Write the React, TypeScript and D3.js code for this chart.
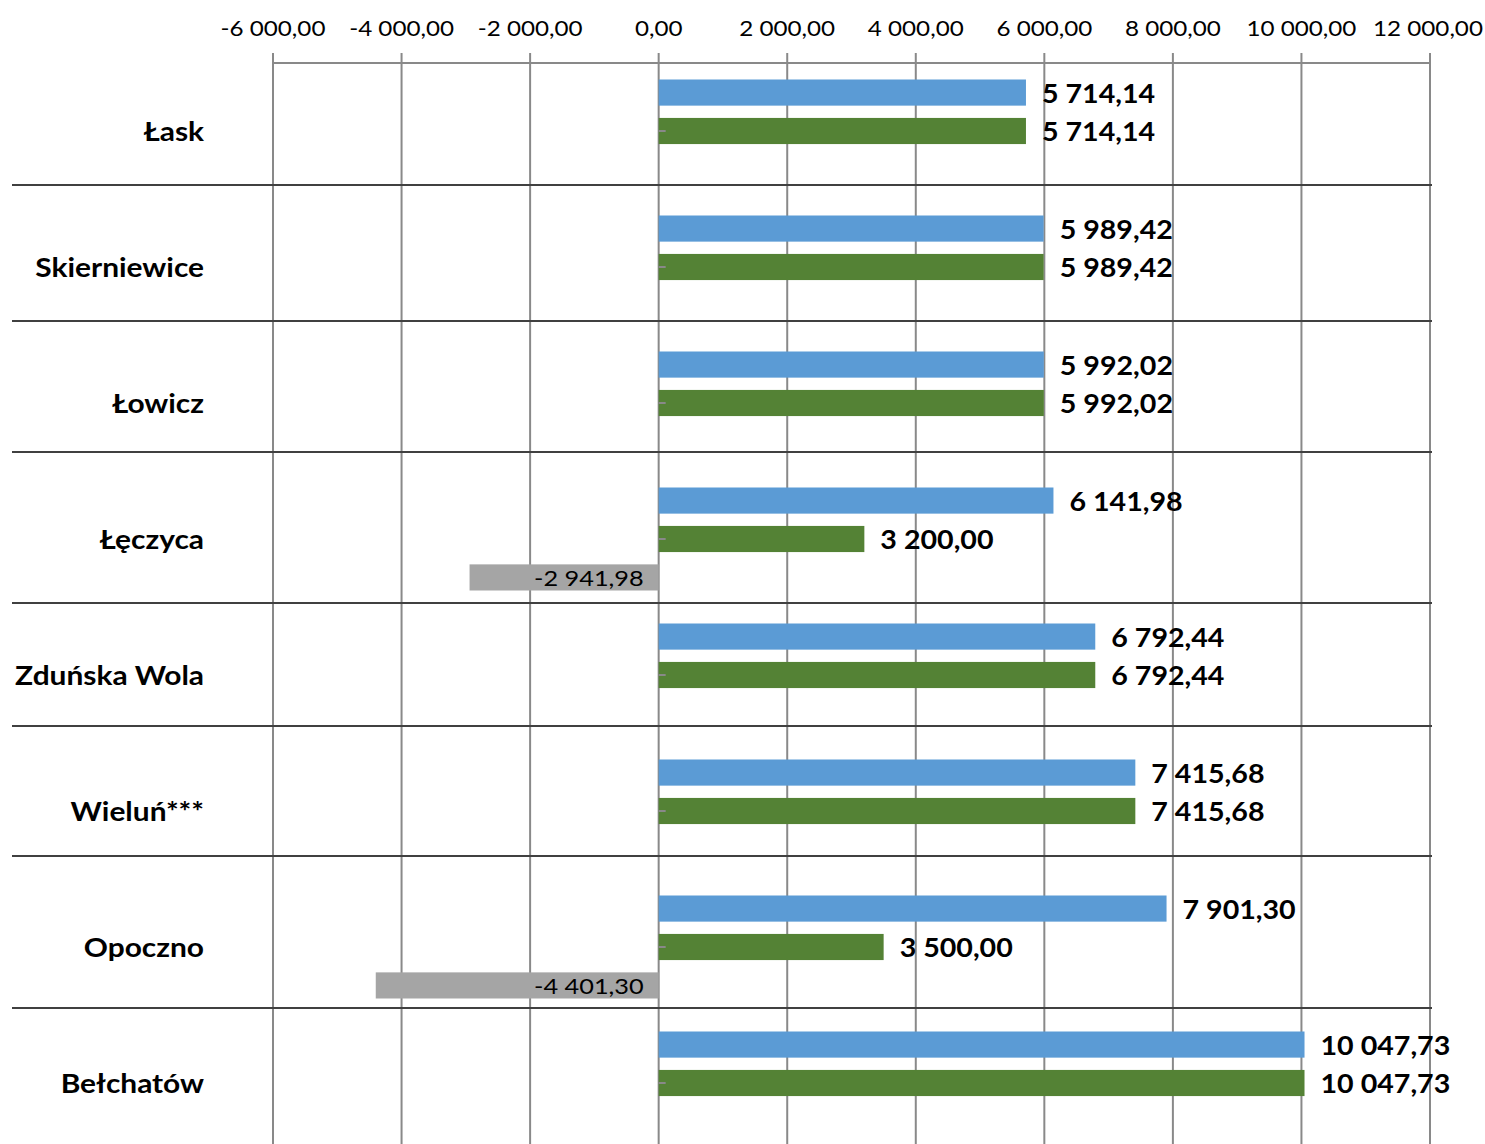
import React from 'react';
import * as d3 from 'd3';

// categories (top to bottom)
const cities = ['Łask', 'Skierniewice', 'Łowicz', 'Łęczyca', 'Zduńska Wola', 'Wieluń***', 'Opoczno', 'Bełchatów'];
// series values
const blueValues = [5714.14, 5989.42, 5992.02, 6141.98, 6792.44, 7415.68, 7901.3, 10047.73];
const greenValues = [5714.14, 5989.42, 5992.02, 3200.0, 6792.44, 7415.68, 3500.0, 10047.73];
const grayValues = [0, 0, 0, -2941.98, 0, 0, -4401.3, 0];
// axis ticks
const xTicks = [-6000, -4000, -2000, 0, 2000, 4000, 6000, 8000, 10000, 12000];

const series = ['blue', 'green', 'gray'];
const colors = { blue: '#5B9BD5', green: '#548235', gray: '#A5A5A5' };

const width = 1485;
const height = 1144;
const font = "Lato, 'Open Sans', sans-serif";

// table row borders behind the chart
const rowLines = [185, 321, 452, 603, 726, 856, 1008];

const plFormat = d3.formatLocale({
  decimal: ',',
  thousands: ' ',
  grouping: [3],
  currency: ['', ''],
  minus: '-',
}).format(',.2f');

// text stretched a little wider, like the original rendering
const Label = ({ x, y, sx, anchor = 'start', size, bold = false, children }: any) => (
  <text
    transform={`translate(${x},${y}) scale(${sx},1)`}
    textAnchor={anchor}
    dominantBaseline="central"
    fontFamily={font}
    fontWeight={bold ? 'bold' : 'normal'}
    fontSize={size}
    fill="#000"
  >
    {children}
  </text>
);

const App = () => {
  const x = d3.scaleLinear().domain([-6000, 12000]).range([273, 1430]);
  const y = d3.scaleBand().domain(cities).range([63, 1151]).padding(0);
  const bw = y.bandwidth();
  const inner = d3.scaleBand().domain(series).range([(bw - 103) / 2, (bw + 103) / 2]).paddingInner(0.32).paddingOuter(0);

  const rows = cities.map((c, i) => ({
    city: c,
    vals: { blue: blueValues[i], green: greenValues[i], gray: grayValues[i] },
  }));

  return (
    <svg width={width} height={height} style={{ position: 'absolute', left: 0, top: 0, background: '#fff' }}>
      {/* vertical gridlines */}
      {xTicks.map((t) => (
        <line key={'g' + t} x1={x(t)} x2={x(t)} y1={53} y2={height} stroke="#898989" strokeWidth={2} />
      ))}
      {/* top axis line */}
      <line x1={x(-6000)} x2={x(12000)} y1={63} y2={63} stroke="#898989" strokeWidth={2} />
      {xTicks.map((t, i) => (
        <Label key={'t' + t} x={i === xTicks.length - 1 ? x(t) - 2 : x(t)} y={27} sx={1.1} anchor="middle" size={22}>
          {plFormat(t)}
        </Label>
      ))}

      {/* row borders */}
      {rowLines.map((ly) => (
        <line key={'r' + ly} x1={12} x2={1432} y1={ly} y2={ly} stroke="#404040" strokeWidth={2} />
      ))}

      {rows.map((r) => {
        const top = y(r.city)!;
        const center = top + bw / 2;
        return (
          <g key={r.city}>
            <Label x={204} y={center} sx={1.15} anchor="end" size={26} bold>
              {r.city}
            </Label>
            {series.map((s) => {
              const v = r.vals[s as keyof typeof r.vals];
              if (!v) return null;
              const by = top + inner(s)!;
              const x0 = x(Math.min(0, v));
              const x1 = x(Math.max(0, v));
              const my = by + inner.bandwidth() / 2;
              return (
                <g key={s}>
                  <rect x={x0} y={by} width={x1 - x0} height={inner.bandwidth()} fill={colors[s as keyof typeof colors]} />
                  {v > 0 ? (
                    <Label x={x(v) + 16} y={my} sx={1.1} size={26} bold>
                      {plFormat(v)}
                    </Label>
                  ) : (
                    <Label x={x(0) - 15} y={my} sx={1.15} anchor="end" size={22}>
                      {plFormat(v)}
                    </Label>
                  )}
                </g>
              );
            })}
            <line x1={x(0)} x2={x(0) + 7} y1={center} y2={center} stroke="#898989" strokeWidth={2} />
          </g>
        );
      })}
    </svg>
  );
};

export default App;
